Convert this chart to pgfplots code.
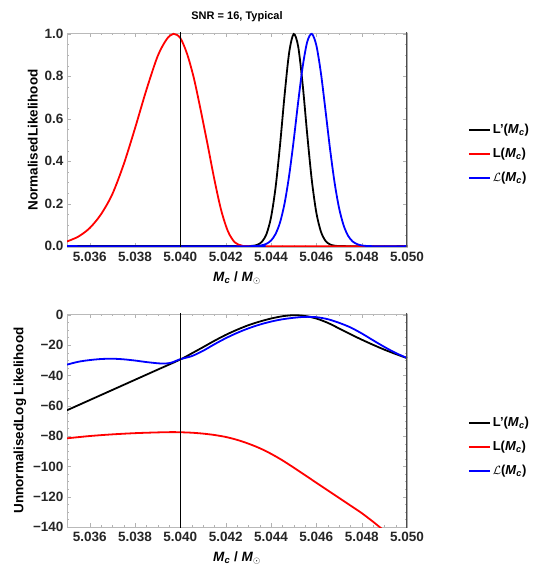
\documentclass[border=0pt]{standalone}
\usepackage{fontspec}
\setmainfont{Liberation Sans}
\usepackage{amsmath}
\usepackage{pgfplots}
\pgfplotsset{compat=1.18}

\pgfplotsset{
  lkstyle/.style={
    scale only axis, width=340pt,
    xmin=5.035, xmax=5.050,
    xtick={5.036,5.038,5.040,5.042,5.044,5.046,5.048,5.050},
    xticklabels={5.036,5.038,5.040,5.042,5.044,5.046,5.048,5.050},
    minor x tick num=3, minor y tick num=3,
    tick align=inside,
    major tick length=4pt, minor tick length=2pt,
    axis line style={gray!55},
    tick style={gray!60},
    tick label style={font=\bfseries\fontsize{13.5}{15}\selectfont, text=black!85},
    xticklabel style={yshift=-2pt},
    label style={font=\bfseries\fontsize{13.5}{15}\selectfont},
    xlabel={\textit{M}\textsubscript{\textit{c}} / \textit{M}\textsubscript{$\odot$}},
    xlabel style={yshift=-3pt},
    legend cell align=left,
    legend style={draw=none, fill=none, font=\bfseries\fontsize{13}{15}\selectfont,
      anchor=west, row sep=9pt},
    legend image code/.code={\draw[#1] (0pt,0pt) -- (21pt,0pt);},
  },
  curve/.style={line width=1.8pt, smooth},
}

\begin{document}
\begin{tikzpicture}
\useasboundingbox (0,0) rectangle (538pt,576pt);

% top: normalised
\begin{axis}[lkstyle, at={(67pt,329pt)}, anchor=south west, height=214pt,
  ymin=-0.004, ymax=1.004,
  ytick={0,0.2,0.4,0.6,0.8,1.0},
  yticklabels={0.0,0.2,0.4,0.6,0.8,1.0},
  ylabel={NormalisedLikelihood},
  title={SNR = 16, Typical},
  title style={font=\bfseries\fontsize{11}{13}\selectfont, yshift=2pt},
  legend style={at={(1.17,0.435)}}]
\addplot[curve, black] coordinates {(5.0350,0) (5.0426,0) (5.0428,0.0001) (5.0430,0.0004) (5.0432,0.0017) (5.0434,0.0064) (5.0436,0.0207) (5.0438,0.057) (5.0440,0.135) (5.0442,0.275) (5.0444,0.478) (5.0446,0.712) (5.0448,0.911) (5.0450,0.999) (5.0452,0.940) (5.0454,0.758) (5.0456,0.524) (5.0458,0.311) (5.0460,0.158) (5.0462,0.069) (5.0464,0.0257) (5.0466,0.0082) (5.0468,0.0023) (5.0470,0.0005) (5.0472,0) (5.0500,0)};
\addlegendentry{L'(\textit{M}\textsubscript{\textit{c}})}
\addplot[curve, red] coordinates {(5.0350,0.022) (5.0355,0.045) (5.0360,0.085) (5.0365,0.150) (5.0370,0.245) (5.0375,0.385) (5.0380,0.555) (5.0385,0.735) (5.0390,0.895) (5.0394,0.975) (5.0397,1.000) (5.0400,0.980) (5.0403,0.905) (5.0406,0.790) (5.0409,0.640) (5.0412,0.480) (5.0415,0.315) (5.0418,0.170) (5.0421,0.070) (5.0424,0.018) (5.0427,0.003) (5.0430,0) (5.0500,0)};
\addlegendentry{L(\textit{M}\textsubscript{\textit{c}})}
\addplot[curve, blue] coordinates {(5.0350,0) (5.0432,0) (5.0434,0.0013) (5.0436,0.0043) (5.0438,0.0111) (5.0440,0.0263) (5.0442,0.057) (5.0444,0.112) (5.0446,0.202) (5.0448,0.332) (5.0450,0.497) (5.0452,0.680) (5.0454,0.847) (5.0456,0.963) (5.0458,1.0) (5.0460,0.946) (5.0462,0.817) (5.0464,0.643) (5.0466,0.462) (5.0468,0.303) (5.0470,0.181) (5.0472,0.099) (5.0474,0.049) (5.0476,0.0223) (5.0478,0.0093) (5.0480,0.0035) (5.0482,0.001) (5.0484,0) (5.0500,0)};
\addlegendentry{$\mathcal{L}$(\textit{M}\textsubscript{\textit{c}})}
\addplot[black, line width=1pt, forget plot] coordinates {(5.040,-0.1) (5.040,1.1)};
\addplot[black!70, line width=2pt, forget plot] coordinates {(5.050,-0.1) (5.050,1.1)};
\end{axis}

% bottom: unnormalised log
\begin{axis}[lkstyle, at={(67pt,49pt)}, anchor=south west, height=213pt,
  ymin=-140, ymax=0.5,
  ytick={-140,-120,-100,-80,-60,-40,-20,0},
  yticklabels={−140,−120,−100,−80,−60,−40,−20,0},
  ylabel={UnnormalisedLog Likelihood},
  legend style={at={(1.17,0.376)}}]
\addplot[curve, black] coordinates {(5.0350,-63.0) (5.0360,-56.3) (5.0370,-49.6) (5.0380,-42.9) (5.0390,-36.2) (5.0400,-29.5) (5.0405,-25.5) (5.0410,-21.4) (5.0415,-17.2) (5.0420,-13.3) (5.0425,-9.9) (5.0430,-6.9) (5.0435,-4.5) (5.0440,-2.5) (5.0445,-1.0) (5.0450,-0.3) (5.0455,-0.8) (5.0460,-2.5) (5.0465,-5.3) (5.0470,-9.0) (5.0475,-12.8) (5.0480,-16.4) (5.0485,-19.8) (5.0490,-23.0) (5.0495,-25.9) (5.0500,-28.6)};
\addlegendentry{L'(\textit{M}\textsubscript{\textit{c}})}
\addplot[curve, red] coordinates {(5.0350,-81.5) (5.0360,-80.0) (5.0370,-78.9) (5.0380,-78.1) (5.0390,-77.6) (5.0397,-77.4) (5.0400,-77.5) (5.0405,-77.8) (5.0410,-78.4) (5.0415,-79.3) (5.0420,-80.6) (5.0425,-82.5) (5.0430,-85.0) (5.0435,-88.0) (5.0440,-91.7) (5.0445,-96.0) (5.0450,-100.8) (5.0455,-105.8) (5.0460,-110.8) (5.0465,-115.8) (5.0470,-120.8) (5.0475,-125.8) (5.0480,-130.8) (5.0485,-136.5) (5.0490,-142.5) (5.0495,-148.0) (5.0500,-153.0)};
\addlegendentry{L(\textit{M}\textsubscript{\textit{c}})}
\addplot[curve, blue] coordinates {(5.0350,-32.9) (5.0355,-31.0) (5.0360,-29.9) (5.0365,-29.2) (5.0370,-29.0) (5.0375,-29.4) (5.0380,-30.2) (5.0385,-31.2) (5.0390,-32.0) (5.0393,-32.2) (5.0396,-31.6) (5.0400,-29.3) (5.0405,-27.3) (5.0410,-23.8) (5.0415,-19.5) (5.0420,-15.5) (5.0425,-12.0) (5.0430,-9.0) (5.0435,-6.5) (5.0440,-4.5) (5.0445,-3.0) (5.0450,-2.0) (5.0455,-1.4) (5.0460,-1.6) (5.0465,-2.9) (5.0470,-5.3) (5.0475,-8.3) (5.0480,-12.3) (5.0485,-16.8) (5.0490,-21.2) (5.0495,-25.2) (5.0500,-28.5)};
\addlegendentry{$\mathcal{L}$(\textit{M}\textsubscript{\textit{c}})}
\addplot[black, line width=1pt, forget plot] coordinates {(5.040,-150) (5.040,5)};
\addplot[black!70, line width=2pt, forget plot] coordinates {(5.050,-150) (5.050,5)};
\end{axis}
\end{tikzpicture}
\end{document}
